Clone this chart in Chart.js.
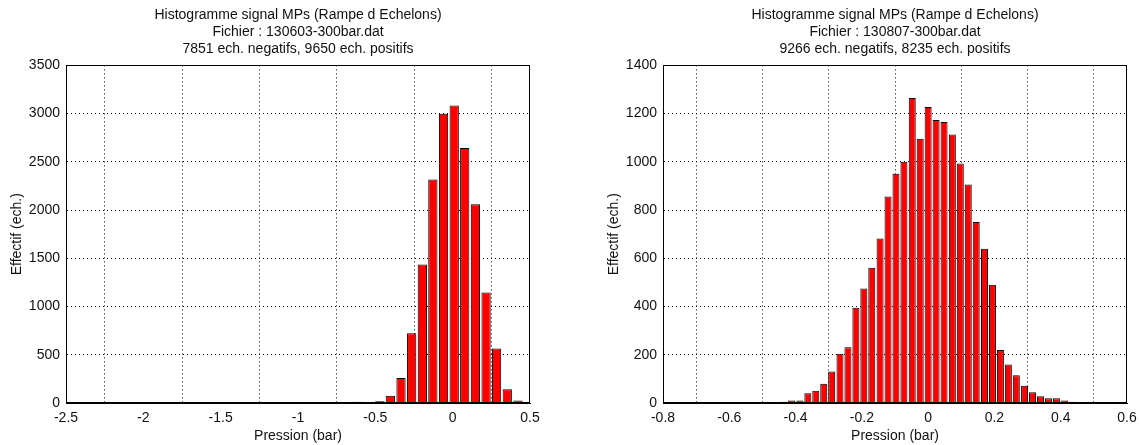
<!DOCTYPE html>
<html lang="fr">
<head>
<meta charset="UTF-8">
<title>Histogrammes signal MPs</title>
<script src="https://cdn.jsdelivr.net/npm/chart.js"></script>
<style>
  body { margin: 0; background: #fff; width: 1139px; height: 445px; overflow: hidden; position: relative; }
  canvas { position: absolute; top: 0; }
  #left { left: 0; }
  #right { left: 597px; }
</style>
</head>
<body>
<canvas id="left" width="548" height="445"></canvas>
<canvas id="right" width="548" height="445"></canvas>
<script>
// --- fichier 130603-300bar.dat (bin centres, bar)
const leftCentres = [-2.326, -2.257, -2.189, -2.120, -2.051, -1.983, -1.914, -1.845, -1.776, -1.708,
  -1.639, -1.570, -1.502, -1.433, -1.364, -1.296, -1.227, -1.158, -1.089, -1.021,
  -0.952, -0.883, -0.815, -0.746, -0.677, -0.609, -0.540, -0.471, -0.403, -0.334,
  -0.265, -0.196, -0.128, -0.059, 0.010, 0.078, 0.147, 0.216, 0.284, 0.353, 0.422];
const leftCounts = [2, 3, 0, 0, 0, 2, 0, 1, 2, 1,
  0, 1, 2, 0, 0, 1, 2, 2, 3, 2,
  2, 3, 3, 2, 4, 12, 6, 18, 75, 260,
  722, 1436, 2316, 3000, 3083, 2644, 2061, 1146, 566, 142, 25];
const leftTitle = ['Histogramme signal MPs (Rampe d Echelons)',
  'Fichier : 130603-300bar.dat',
  '7851 ech. negatifs, 9650 ech. positifs'];
const leftXTicks = [-2.5, -2, -1.5, -1, -0.5, 0, 0.5];
const leftYTicks = [0, 500, 1000, 1500, 2000, 2500, 3000, 3500];

// --- fichier 130807-300bar.dat
const rightCentres = [-0.460, -0.436, -0.412, -0.387, -0.363, -0.339, -0.315, -0.291, -0.266, -0.242,
  -0.218, -0.194, -0.170, -0.145, -0.121, -0.097, -0.073, -0.048, -0.024, 0.000,
  0.024, 0.048, 0.073, 0.097, 0.121, 0.145, 0.170, 0.194, 0.218, 0.242,
  0.266, 0.291, 0.315, 0.339, 0.363, 0.387, 0.412, 0.436, 0.460, 0.484, 0.508];
const rightCounts = [2, 5, 10, 10, 40, 51, 80, 131, 204, 231,
  395, 475, 561, 682, 856, 951, 1000, 1265, 1096, 1227,
  1174, 1165, 1113, 993, 906, 751, 640, 490, 220, 160,
  115, 72, 45, 28, 20, 20, 10, 5, 2, 1, 1];
const rightTitle = ['Histogramme signal MPs (Rampe d Echelons)',
  'Fichier : 130807-300bar.dat',
  '9266 ech. negatifs, 8235 ech. positifs'];
const rightXTicks = [-0.8, -0.6, -0.4, -0.2, 0, 0.2, 0.4, 0.6];
const rightYTicks = [0, 200, 400, 600, 800, 1000, 1200, 1400];

const FONT = "'Liberation Sans Narrow', 'Liberation Sans', Arial, sans-serif";
Chart.defaults.font.family = FONT;
Chart.defaults.font.size = 14;
Chart.defaults.color = '#111';

// matlab style closed box around the axes
const boxPlugin = {
  id: 'box',
  afterDatasetsDraw(chart) {
    const a = chart.chartArea;
    const ctx = chart.ctx;
    ctx.save();
    ctx.strokeStyle = '#000';
    ctx.lineWidth = 1;
    ctx.strokeRect(Math.round(a.left) + 0.5, Math.round(a.top) + 0.5,
      Math.round(a.right - a.left) - 1, Math.round(a.bottom - a.top) - 1);
    ctx.restore();
  }
};

function histo(id, title, centres, counts, xTicks, yTicks) {
  const pts = centres.map((c, i) => ({ x: c, y: counts[i] }));
  new Chart(document.getElementById(id), {
    type: 'bar',
    data: {
      datasets: [{
        data: pts,
        backgroundColor: '#ff0000',
        borderColor: '#000',
        borderWidth: 1,
        borderSkipped: 'start',
        barPercentage: 1,
        categoryPercentage: 0.88
      }]
    },
    options: {
      responsive: false,
      animation: false,
      devicePixelRatio: 1,
      layout: { padding: { left: 0, right: 18, top: 0, bottom: 0 } },
      plugins: {
        legend: { display: false },
        tooltip: { enabled: false },
        title: {
          display: true,
          text: title,
          fullSize: false,
          font: { size: 14, weight: 'normal', lineHeight: 1.2 },
          color: '#111',
          padding: { top: 7, bottom: 8 }
        }
      },
      scales: {
        x: {
          type: 'linear',
          offset: false,
          min: xTicks[0],
          max: xTicks[xTicks.length - 1],
          afterBuildTicks: ax => { ax.ticks = xTicks.map(v => ({ value: v })); },
          afterFit: ax => { ax.height = 42; },
          ticks: { callback: v => String(v), padding: 7, maxRotation: 0, autoSkip: false },
          grid: { color: '#000', drawTicks: false, lineWidth: 1 },
          border: { color: '#000', dash: [1, 3] },
          title: { display: true, text: 'Pression (bar)', padding: { top: 0, bottom: 0 } }
        },
        y: {
          min: 0,
          max: yTicks[yTicks.length - 1],
          afterBuildTicks: ax => { ax.ticks = yTicks.map(v => ({ value: v })); },
          afterFit: ax => { ax.width = 66; },
          ticks: { callback: v => String(v), padding: 6 },
          grid: { color: '#000', drawTicks: false, lineWidth: 1 },
          border: { color: '#000', dash: [1, 3] },
          title: { display: true, text: 'Effectif (ech.)', padding: { top: 9, bottom: 0 } }
        }
      }
    },
    plugins: [boxPlugin]
  });
}

histo('left', leftTitle, leftCentres, leftCounts, leftXTicks, leftYTicks);
histo('right', rightTitle, rightCentres, rightCounts, rightXTicks, rightYTicks);
</script>
</body>
</html>
